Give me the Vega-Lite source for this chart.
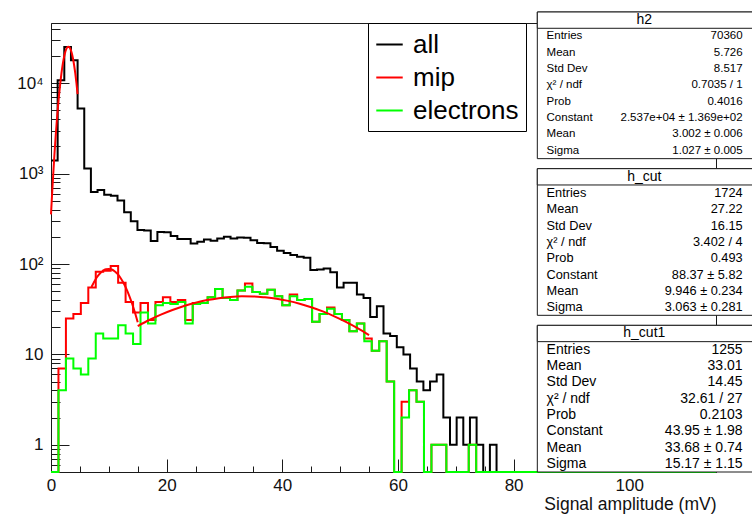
{
  "$schema": "https://vega.github.io/schema/vega-lite/v6.json",
  "width": 665,
  "height": 449,
  "autosize": {"type": "none"},
  "padding": {"left": 51, "top": 23, "right": 36, "bottom": 42},
  "background": "white",
  "config": {
    "font": "Liberation Sans",
    "view": {"stroke": "#1a1a1a", "strokeWidth": 1},
    "axis": {
      "grid": false,
      "domainColor": "#1a1a1a",
      "tickColor": "#1a1a1a",
      "tickWidth": 1,
      "domainWidth": 1,
      "labelColor": "#111111",
      "titleColor": "#111111",
      "labelFont": "Liberation Sans",
      "titleFont": "Liberation Sans",
      "labelFontSize": 17,
      "titleFontSize": 17.5,
      "titleFontWeight": "normal"
    }
  },
  "datasets": {
    "hist": [
      {"h": "all", "lo": 0, "n": 1400},
      {"h": "all", "lo": 1.15, "n": 10800},
      {"h": "all", "lo": 2.3, "n": 25200},
      {"h": "all", "lo": 3.45, "n": 18000},
      {"h": "all", "lo": 4.6, "n": 5250},
      {"h": "all", "lo": 5.75, "n": 1140},
      {"h": "all", "lo": 6.9, "n": 625},
      {"h": "all", "lo": 8.05, "n": 657},
      {"h": "all", "lo": 9.2, "n": 585},
      {"h": "all", "lo": 10.35, "n": 570},
      {"h": "all", "lo": 11.5, "n": 505},
      {"h": "all", "lo": 12.65, "n": 374},
      {"h": "all", "lo": 13.8, "n": 297},
      {"h": "all", "lo": 14.95, "n": 238},
      {"h": "all", "lo": 16.1, "n": 235},
      {"h": "all", "lo": 17.25, "n": 180},
      {"h": "all", "lo": 18.4, "n": 226},
      {"h": "all", "lo": 19.55, "n": 224},
      {"h": "all", "lo": 20.7, "n": 204},
      {"h": "all", "lo": 21.85, "n": 189},
      {"h": "all", "lo": 23, "n": 189},
      {"h": "all", "lo": 24.15, "n": 169},
      {"h": "all", "lo": 25.3, "n": 176},
      {"h": "all", "lo": 26.45, "n": 187},
      {"h": "all", "lo": 27.6, "n": 181},
      {"h": "all", "lo": 28.75, "n": 192},
      {"h": "all", "lo": 29.9, "n": 200},
      {"h": "all", "lo": 31.05, "n": 192},
      {"h": "all", "lo": 32.2, "n": 196},
      {"h": "all", "lo": 33.35, "n": 195},
      {"h": "all", "lo": 34.5, "n": 183},
      {"h": "all", "lo": 35.65, "n": 171},
      {"h": "all", "lo": 36.8, "n": 170},
      {"h": "all", "lo": 37.95, "n": 154},
      {"h": "all", "lo": 39.1, "n": 140},
      {"h": "all", "lo": 40.25, "n": 132},
      {"h": "all", "lo": 41.4, "n": 126},
      {"h": "all", "lo": 42.55, "n": 120},
      {"h": "all", "lo": 43.7, "n": 117},
      {"h": "all", "lo": 44.85, "n": 86},
      {"h": "all", "lo": 46, "n": 87},
      {"h": "all", "lo": 47.15, "n": 89},
      {"h": "all", "lo": 48.3, "n": 81},
      {"h": "all", "lo": 49.45, "n": 55},
      {"h": "all", "lo": 50.6, "n": 62},
      {"h": "all", "lo": 51.75, "n": 62},
      {"h": "all", "lo": 52.9, "n": 46},
      {"h": "all", "lo": 54.05, "n": 42},
      {"h": "all", "lo": 55.2, "n": 26},
      {"h": "all", "lo": 56.35, "n": 34},
      {"h": "all", "lo": 57.5, "n": 17},
      {"h": "all", "lo": 58.65, "n": 16},
      {"h": "all", "lo": 59.8, "n": 12},
      {"h": "all", "lo": 60.95, "n": 10},
      {"h": "all", "lo": 62.1, "n": 7},
      {"h": "all", "lo": 63.25, "n": 5},
      {"h": "all", "lo": 64.4, "n": 4},
      {"h": "all", "lo": 65.55, "n": 5},
      {"h": "all", "lo": 66.7, "n": 6},
      {"h": "all", "lo": 67.85, "n": 2},
      {"h": "all", "lo": 69, "n": 1},
      {"h": "all", "lo": 70.15, "n": 2},
      {"h": "all", "lo": 71.3, "n": 1},
      {"h": "all", "lo": 72.45, "n": 2},
      {"h": "all", "lo": 73.6, "n": 1},
      {"h": "all", "lo": 74.75, "n": 0},
      {"h": "all", "lo": 75.9, "n": 1},
      {"h": "all", "lo": 77.05, "n": 0},
      {"h": "all", "lo": 115, "n": 0},

      {"h": "mip", "lo": 0, "n": 0},
      {"h": "mip", "lo": 1.29, "n": 7},
      {"h": "mip", "lo": 2.58, "n": 25},
      {"h": "mip", "lo": 3.87, "n": 28},
      {"h": "mip", "lo": 5.16, "n": 37},
      {"h": "mip", "lo": 6.45, "n": 55},
      {"h": "mip", "lo": 7.74, "n": 82},
      {"h": "mip", "lo": 9.03, "n": 84},
      {"h": "mip", "lo": 10.32, "n": 95},
      {"h": "mip", "lo": 11.61, "n": 62},
      {"h": "mip", "lo": 12.9, "n": 38},
      {"h": "mip", "lo": 14.19, "n": 29},
      {"h": "mip", "lo": 15.48, "n": 37},
      {"h": "mip", "lo": 16.77, "n": 24},
      {"h": "mip", "lo": 18.06, "n": 38},
      {"h": "mip", "lo": 19.35, "n": 43},
      {"h": "mip", "lo": 20.64, "n": 38},
      {"h": "mip", "lo": 21.93, "n": 40},
      {"h": "mip", "lo": 23.22, "n": 24},
      {"h": "mip", "lo": 24.51, "n": 37},
      {"h": "mip", "lo": 25.8, "n": 37},
      {"h": "mip", "lo": 27.09, "n": 43},
      {"h": "mip", "lo": 28.38, "n": 53},
      {"h": "mip", "lo": 29.67, "n": 42},
      {"h": "mip", "lo": 30.96, "n": 40},
      {"h": "mip", "lo": 32.25, "n": 51},
      {"h": "mip", "lo": 33.54, "n": 61},
      {"h": "mip", "lo": 34.83, "n": 49},
      {"h": "mip", "lo": 36.12, "n": 47},
      {"h": "mip", "lo": 37.41, "n": 52},
      {"h": "mip", "lo": 38.7, "n": 44},
      {"h": "mip", "lo": 39.99, "n": 35},
      {"h": "mip", "lo": 41.28, "n": 46},
      {"h": "mip", "lo": 42.57, "n": 40},
      {"h": "mip", "lo": 43.86, "n": 41},
      {"h": "mip", "lo": 45.15, "n": 23},
      {"h": "mip", "lo": 46.44, "n": 28},
      {"h": "mip", "lo": 47.73, "n": 33},
      {"h": "mip", "lo": 49.02, "n": 28},
      {"h": "mip", "lo": 50.31, "n": 24},
      {"h": "mip", "lo": 51.6, "n": 18},
      {"h": "mip", "lo": 52.89, "n": 22},
      {"h": "mip", "lo": 54.18, "n": 15},
      {"h": "mip", "lo": 55.47, "n": 11},
      {"h": "mip", "lo": 56.76, "n": 14},
      {"h": "mip", "lo": 58.05, "n": 5},
      {"h": "mip", "lo": 59.34, "n": 0},
      {"h": "mip", "lo": 60.63, "n": 3},
      {"h": "mip", "lo": 61.92, "n": 4},
      {"h": "mip", "lo": 63.21, "n": 3},
      {"h": "mip", "lo": 64.5, "n": 0},
      {"h": "mip", "lo": 65.79, "n": 1},
      {"h": "mip", "lo": 67.08, "n": 1},
      {"h": "mip", "lo": 68.37, "n": 0},
      {"h": "mip", "lo": 72.24, "n": 1},
      {"h": "mip", "lo": 73.53, "n": 0},
      {"h": "mip", "lo": 115, "n": 0},

      {"h": "electrons", "lo": 0, "n": 0},
      {"h": "electrons", "lo": 1.29, "n": 4},
      {"h": "electrons", "lo": 2.58, "n": 9},
      {"h": "electrons", "lo": 3.87, "n": 7},
      {"h": "electrons", "lo": 5.16, "n": 6},
      {"h": "electrons", "lo": 6.45, "n": 9},
      {"h": "electrons", "lo": 7.74, "n": 17},
      {"h": "electrons", "lo": 9.03, "n": 15},
      {"h": "electrons", "lo": 10.32, "n": 15},
      {"h": "electrons", "lo": 11.61, "n": 21},
      {"h": "electrons", "lo": 12.9, "n": 17},
      {"h": "electrons", "lo": 14.19, "n": 13},
      {"h": "electrons", "lo": 15.48, "n": 29},
      {"h": "electrons", "lo": 16.77, "n": 22},
      {"h": "electrons", "lo": 18.06, "n": 35},
      {"h": "electrons", "lo": 19.35, "n": 37},
      {"h": "electrons", "lo": 20.64, "n": 36},
      {"h": "electrons", "lo": 21.93, "n": 38},
      {"h": "electrons", "lo": 23.22, "n": 22},
      {"h": "electrons", "lo": 24.51, "n": 36},
      {"h": "electrons", "lo": 25.8, "n": 37},
      {"h": "electrons", "lo": 27.09, "n": 43},
      {"h": "electrons", "lo": 28.38, "n": 53},
      {"h": "electrons", "lo": 29.67, "n": 42},
      {"h": "electrons", "lo": 30.96, "n": 40},
      {"h": "electrons", "lo": 32.25, "n": 51},
      {"h": "electrons", "lo": 33.54, "n": 56},
      {"h": "electrons", "lo": 34.83, "n": 49},
      {"h": "electrons", "lo": 36.12, "n": 47},
      {"h": "electrons", "lo": 37.41, "n": 52},
      {"h": "electrons", "lo": 38.7, "n": 44},
      {"h": "electrons", "lo": 39.99, "n": 35},
      {"h": "electrons", "lo": 41.28, "n": 44},
      {"h": "electrons", "lo": 42.57, "n": 40},
      {"h": "electrons", "lo": 43.86, "n": 41},
      {"h": "electrons", "lo": 45.15, "n": 23},
      {"h": "electrons", "lo": 46.44, "n": 28},
      {"h": "electrons", "lo": 47.73, "n": 32},
      {"h": "electrons", "lo": 49.02, "n": 28},
      {"h": "electrons", "lo": 50.31, "n": 24},
      {"h": "electrons", "lo": 51.6, "n": 18},
      {"h": "electrons", "lo": 52.89, "n": 22},
      {"h": "electrons", "lo": 54.18, "n": 14},
      {"h": "electrons", "lo": 55.47, "n": 11},
      {"h": "electrons", "lo": 56.76, "n": 14},
      {"h": "electrons", "lo": 58.05, "n": 5},
      {"h": "electrons", "lo": 59.34, "n": 0},
      {"h": "electrons", "lo": 60.63, "n": 2},
      {"h": "electrons", "lo": 61.92, "n": 4},
      {"h": "electrons", "lo": 63.21, "n": 3},
      {"h": "electrons", "lo": 64.5, "n": 0},
      {"h": "electrons", "lo": 65.79, "n": 1},
      {"h": "electrons", "lo": 67.08, "n": 1},
      {"h": "electrons", "lo": 68.37, "n": 0},
      {"h": "electrons", "lo": 72.24, "n": 1},
      {"h": "electrons", "lo": 73.53, "n": 0},
      {"h": "electrons", "lo": 115, "n": 0}
    ],
    "fits": [
      {"fit": "h2", "x": 0, "y": 354.0},
      {"fit": "h2", "x": 0.2, "y": 613.7},
      {"fit": "h2", "x": 0.4, "y": 1024.4},
      {"fit": "h2", "x": 0.6, "y": 1646.3},
      {"fit": "h2", "x": 0.8, "y": 2546.8},
      {"fit": "h2", "x": 1.0, "y": 3794.6},
      {"fit": "h2", "x": 1.2, "y": 5443.0},
      {"fit": "h2", "x": 1.4, "y": 7515.4},
      {"fit": "h2", "x": 1.6, "y": 9992.0},
      {"fit": "h2", "x": 1.8, "y": 12790},
      {"fit": "h2", "x": 2.0, "y": 15762},
      {"fit": "h2", "x": 2.2, "y": 18703},
      {"fit": "h2", "x": 2.4, "y": 21365},
      {"fit": "h2", "x": 2.6, "y": 23499},
      {"fit": "h2", "x": 2.8, "y": 24884},
      {"fit": "h2", "x": 3.0, "y": 25370},
      {"fit": "h2", "x": 3.2, "y": 24903},
      {"fit": "h2", "x": 3.4, "y": 23535},
      {"fit": "h2", "x": 3.6, "y": 21414},
      {"fit": "h2", "x": 3.8, "y": 18759},
      {"fit": "h2", "x": 4.0, "y": 15822},
      {"fit": "h2", "x": 4.2, "y": 12848},
      {"fit": "h2", "x": 4.4, "y": 10045},
      {"fit": "h2", "x": 4.6, "y": 7561},

      {"fit": "h_cut", "x": 7.0, "y": 55.64},
      {"fit": "h_cut", "x": 7.5, "y": 64.24},
      {"fit": "h_cut", "x": 8.0, "y": 72.22},
      {"fit": "h_cut", "x": 8.5, "y": 79.05},
      {"fit": "h_cut", "x": 9.0, "y": 84.25},
      {"fit": "h_cut", "x": 9.5, "y": 87.44},
      {"fit": "h_cut", "x": 10.0, "y": 88.36},
      {"fit": "h_cut", "x": 10.5, "y": 86.94},
      {"fit": "h_cut", "x": 11.0, "y": 83.29},
      {"fit": "h_cut", "x": 11.5, "y": 77.70},
      {"fit": "h_cut", "x": 12.0, "y": 70.58},
      {"fit": "h_cut", "x": 12.5, "y": 62.42},
      {"fit": "h_cut", "x": 13.0, "y": 53.76},
      {"fit": "h_cut", "x": 13.5, "y": 45.08},
      {"fit": "h_cut", "x": 14.0, "y": 36.81},
      {"fit": "h_cut", "x": 14.5, "y": 29.26},
      {"fit": "h_cut", "x": 15.0, "y": 22.65},

      {"fit": "h_cut1", "x": 15, "y": 20.59},
      {"fit": "h_cut1", "x": 17, "y": 24.01},
      {"fit": "h_cut1", "x": 19, "y": 27.52},
      {"fit": "h_cut1", "x": 21, "y": 30.99},
      {"fit": "h_cut1", "x": 23, "y": 34.30},
      {"fit": "h_cut1", "x": 25, "y": 37.31},
      {"fit": "h_cut1", "x": 27, "y": 39.89},
      {"fit": "h_cut1", "x": 29, "y": 41.91},
      {"fit": "h_cut1", "x": 31, "y": 43.27},
      {"fit": "h_cut1", "x": 33, "y": 43.91},
      {"fit": "h_cut1", "x": 35, "y": 43.78},
      {"fit": "h_cut1", "x": 37, "y": 42.79},
      {"fit": "h_cut1", "x": 39, "y": 41.33},
      {"fit": "h_cut1", "x": 41, "y": 39.12},
      {"fit": "h_cut1", "x": 43, "y": 36.39},
      {"fit": "h_cut1", "x": 45, "y": 33.27},
      {"fit": "h_cut1", "x": 47, "y": 29.89},
      {"fit": "h_cut1", "x": 49, "y": 26.39},
      {"fit": "h_cut1", "x": 51, "y": 22.90},
      {"fit": "h_cut1", "x": 53, "y": 19.53},
      {"fit": "h_cut1", "x": 55, "y": 16.37}
    ],
    "statTitles": [
      {"box": "h2", "line": 0, "title": "h2"},
      {"box": "h_cut", "line": 0, "title": "h_cut"},
      {"box": "h_cut1", "line": 0, "title": "h_cut1"}
    ],
    "stats": [
      {"box": "h2", "line": 1, "label": "Entries", "value": "70360"},
      {"box": "h2", "line": 2, "label": "Mean", "value": "5.726"},
      {"box": "h2", "line": 3, "label": "Std Dev", "value": "8.517"},
      {"box": "h2", "line": 4, "label": "χ² / ndf", "value": "0.7035 / 1"},
      {"box": "h2", "line": 5, "label": "Prob", "value": "0.4016"},
      {"box": "h2", "line": 6, "label": "Constant", "value": "2.537e+04 ± 1.369e+02"},
      {"box": "h2", "line": 7, "label": "Mean", "value": "3.002 ± 0.006"},
      {"box": "h2", "line": 8, "label": "Sigma", "value": "1.027 ± 0.005"},
      {"box": "h_cut", "line": 1, "label": "Entries", "value": "1724"},
      {"box": "h_cut", "line": 2, "label": "Mean", "value": "27.22"},
      {"box": "h_cut", "line": 3, "label": "Std Dev", "value": "16.15"},
      {"box": "h_cut", "line": 4, "label": "χ² / ndf", "value": "3.402 / 4"},
      {"box": "h_cut", "line": 5, "label": "Prob", "value": "0.493"},
      {"box": "h_cut", "line": 6, "label": "Constant", "value": "88.37 ± 5.82"},
      {"box": "h_cut", "line": 7, "label": "Mean", "value": "9.946 ± 0.234"},
      {"box": "h_cut", "line": 8, "label": "Sigma", "value": "3.063 ± 0.281"},
      {"box": "h_cut1", "line": 1, "label": "Entries", "value": "1255"},
      {"box": "h_cut1", "line": 2, "label": "Mean", "value": "33.01"},
      {"box": "h_cut1", "line": 3, "label": "Std Dev", "value": "14.45"},
      {"box": "h_cut1", "line": 4, "label": "χ² / ndf", "value": "32.61 / 27"},
      {"box": "h_cut1", "line": 5, "label": "Prob", "value": "0.2103"},
      {"box": "h_cut1", "line": 6, "label": "Constant", "value": "43.95 ± 1.98"},
      {"box": "h_cut1", "line": 7, "label": "Mean", "value": "33.68 ± 0.74"},
      {"box": "h_cut1", "line": 8, "label": "Sigma", "value": "15.17 ± 1.15"}
    ]
  },
  "layer": [
    {
      "layer": [
        {
          "data": {"name": "hist"},
          "transform": [{"filter": {"field": "h", "equal": "all"}}],
          "mark": {"type": "line", "interpolate": "step-after", "strokeWidth": 2},
          "encoding": {
            "x": {
              "field": "lo", "type": "quantitative",
              "scale": {"domain": [0, 115], "nice": false, "zero": false},
              "axis": {"orient": "bottom", "values": [0, 20, 40, 60, 80, 100], "labels": false, "tickSize": -13, "domain": true, "title": null}
            },
            "y": {
              "field": "n", "type": "quantitative",
              "scale": {"type": "log", "domain": [0.5, 46400], "clamp": true, "nice": false},
              "axis": {"orient": "left", "values": [1, 10, 100, 1000, 10000], "labels": false, "tickSize": -18, "domain": true, "title": null}
            },
            "color": {
              "field": "h", "type": "nominal",
              "scale": {"domain": ["all", "mip", "electrons"], "range": ["#000000", "#ff0000", "#00ff00"]},
              "legend": {"title": null, "orient": "none", "legendX": 317, "legendY": 0, "symbolType": "stroke", "symbolSize": 700, "symbolStrokeWidth": 2, "labelFontSize": 26, "labelFont": "Liberation Sans", "labelColor": "#000000", "strokeColor": "#000000", "fillColor": "#ffffff", "padding": 7, "rowPadding": 5, "labelOffset": 9, "offset": 0, "cornerRadius": 0, "labelLimit": 300}
            }
          }
        },
        {
          "data": {"name": "hist"},
          "transform": [{"filter": {"field": "h", "equal": "mip"}}],
          "mark": {"type": "line", "interpolate": "step-after", "strokeWidth": 2},
          "encoding": {
            "x": {
              "field": "lo", "type": "quantitative",
              "axis": {"orient": "bottom", "values": [5, 10, 15, 25, 30, 35, 45, 50, 55, 65, 70, 75, 85, 90, 95, 105, 110], "labels": false, "tickSize": -6, "domain": false, "title": null}
            },
            "y": {
              "field": "n", "type": "quantitative",
              "axis": {"orient": "left", "values": [0.6, 0.7, 0.8, 0.9, 2, 3, 4, 5, 6, 7, 8, 9, 20, 30, 40, 50, 60, 70, 80, 90, 200, 300, 400, 500, 600, 700, 800, 900, 2000, 3000, 4000, 5000, 6000, 7000, 8000, 9000, 20000, 30000, 40000], "labels": false, "tickSize": -9, "domain": false, "title": null}
            },
            "color": {
              "field": "h", "type": "nominal",
              "legend": {"title": null, "orient": "none", "legendX": 317, "legendY": 0, "symbolType": "stroke", "symbolSize": 700, "symbolStrokeWidth": 2, "labelFontSize": 26, "labelFont": "Liberation Sans", "labelColor": "#000000", "strokeColor": "#000000", "fillColor": "#ffffff", "padding": 7, "rowPadding": 5, "labelOffset": 9, "offset": 0, "cornerRadius": 0, "labelLimit": 300}
            }
          }
        },
        {
          "data": {"name": "hist"},
          "transform": [{"filter": {"field": "h", "equal": "electrons"}}],
          "mark": {"type": "line", "interpolate": "step-after", "strokeWidth": 2},
          "encoding": {
            "x": {
              "field": "lo", "type": "quantitative",
              "axis": {"orient": "bottom", "values": [0, 20, 40, 60, 80, 100], "ticks": false, "domain": false, "labelPadding": 5, "labelFlush": false, "title": "Signal amplitude (mV)", "titleAnchor": "end", "titlePadding": 2}
            },
            "y": {
              "field": "n", "type": "quantitative",
              "axis": {"orient": "left", "values": [1, 10, 100, 1000, 10000], "ticks": false, "domain": false, "labelPadding": 8, "title": null,
                "labelExpr": "datum.value >= 10000 ? '10⁴' : datum.value >= 1000 ? '10³' : datum.value >= 100 ? '10²' : datum.value >= 10 ? '10' : '1'"}
            },
            "color": {
              "field": "h", "type": "nominal",
              "legend": {"title": null, "orient": "none", "legendX": 317, "legendY": 0, "symbolType": "stroke", "symbolSize": 700, "symbolStrokeWidth": 2, "labelFontSize": 26, "labelFont": "Liberation Sans", "labelColor": "#000000", "strokeColor": "#000000", "fillColor": "#ffffff", "padding": 7, "rowPadding": 5, "labelOffset": 9, "offset": 0, "cornerRadius": 0, "labelLimit": 300}
            }
          }
        },
        {
          "data": {"name": "fits"},
          "mark": {"type": "line", "interpolate": "monotone", "strokeWidth": 2, "color": "#ff0000"},
          "encoding": {
            "x": {"field": "x", "type": "quantitative", "axis": null},
            "y": {"field": "y", "type": "quantitative", "axis": null},
            "detail": {"field": "fit"}
          }
        }
      ],
      "resolve": {"axis": {"x": "independent", "y": "independent"}}
    },
    {
      "layer": [
        {
          "data": {"name": "statTitles"},
          "mark": {"type": "rect", "fill": "#ffffff", "stroke": "#1a1a1a", "strokeWidth": 1},
          "encoding": {
            "x": {"datum": 84.1, "axis": null},
            "x2": {"datum": 121.5},
            "y": {
              "field": "box", "type": "nominal", "axis": null,
              "scale": {"domain": ["h2", "h_cut", "h_cut1"], "range": [-11, 449], "paddingInner": 0.064, "paddingOuter": 0}
            }
          }
        },
        {
          "data": {"name": "statTitles"},
          "mark": {"type": "rect", "fill": "#ffffff", "stroke": "#1a1a1a", "strokeWidth": 1},
          "encoding": {
            "x": {"datum": 84.1, "axis": null},
            "x2": {"datum": 121.5},
            "y": {"field": "box", "type": "nominal", "axis": null},
            "yOffset": {"field": "line", "type": "ordinal", "scale": {"domain": [0, 1, 2, 3, 4, 5, 6, 7, 8], "paddingInner": 0, "paddingOuter": 0}}
          }
        },
        {
          "data": {"name": "statTitles"},
          "mark": {"type": "text", "align": "center", "baseline": "middle", "fontSize": 14, "font": "Liberation Sans", "color": "#000000"},
          "encoding": {
            "x": {"datum": 102.6, "axis": null},
            "y": {"field": "box", "type": "nominal", "axis": null},
            "yOffset": {"field": "line", "type": "ordinal"},
            "text": {"field": "title"}
          }
        },
        {
          "data": {"name": "stats"},
          "mark": {"type": "text", "align": "left", "baseline": "middle", "font": "Liberation Sans", "color": "#000000"},
          "encoding": {
            "x": {"datum": 85.7, "axis": null},
            "y": {"field": "box", "type": "nominal", "axis": null},
            "yOffset": {"field": "line", "type": "ordinal"},
            "text": {"field": "label"},
            "size": {"field": "box", "type": "ordinal", "scale": {"domain": ["h2", "h_cut", "h_cut1"], "range": [11.5, 14, 14]}, "legend": null}
          }
        },
        {
          "data": {"name": "stats"},
          "mark": {"type": "text", "align": "right", "baseline": "middle", "font": "Liberation Sans", "color": "#000000"},
          "encoding": {
            "x": {"datum": 119.6, "axis": null},
            "y": {"field": "box", "type": "nominal", "axis": null},
            "yOffset": {"field": "line", "type": "ordinal"},
            "text": {"field": "value"},
            "size": {"field": "box", "type": "ordinal", "legend": null}
          }
        }
      ]
    }
  ],
  "resolve": {"scale": {"y": "independent"}, "axis": {"x": "independent", "y": "independent"}}
}
